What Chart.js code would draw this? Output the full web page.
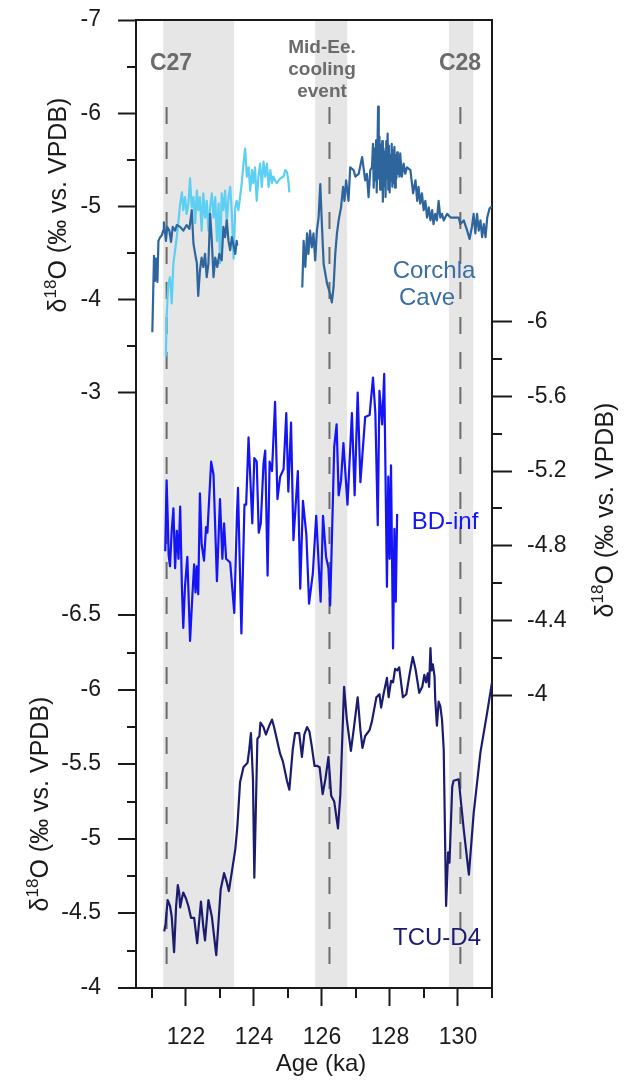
<!DOCTYPE html>
<html>
<head>
<meta charset="utf-8">
<script src="https://cdn.jsdelivr.net/npm/chart.js@4.4.1/dist/chart.umd.min.js"></script>
<style>
  html, body { margin: 0; padding: 0; background: #fff; }
  canvas { display: block; }
</style>
</head>
<body>
<canvas id="chart" width="624" height="1080"></canvas>
<script>
// Corchla Cave, dark record (two pieces) and light record, age in ka
const corchlaAgeA = [121.01,121.06,121.09,121.12,121.16,121.19,121.24,121.29,121.33,121.35,121.41,121.45,121.51,121.56,121.61,121.68,121.73,121.83,121.92,122.02,122.10,122.17,122.22,122.27,122.32,122.36,122.41,122.46,122.51,122.56,122.61,122.66,122.71,122.76,122.81,122.86,122.92,122.98,123.05,123.10,123.15,123.20,123.25,123.30,123.35,123.40,123.45,123.49,123.51];
const corchlaD18OA = [-3.65,-4.47,-4.20,-4.44,-4.19,-4.63,-4.67,-4.69,-4.74,-4.83,-4.63,-4.78,-4.74,-4.62,-4.78,-4.74,-4.80,-4.78,-4.74,-4.80,-4.76,-4.96,-4.60,-4.49,-4.39,-4.04,-4.31,-4.45,-4.35,-4.49,-4.24,-4.39,-4.92,-4.63,-4.24,-4.45,-4.35,-4.49,-4.42,-4.78,-4.67,-4.85,-4.63,-4.53,-4.67,-4.58,-4.49,-4.63,-4.58];
const corchlaAgeB = [125.42,125.46,125.51,125.56,125.60,125.65,125.70,125.75,125.80,125.85,125.90,125.95,126.00,126.05,126.15,126.24,126.29,126.34,126.39,126.44,126.49,126.56,126.62,126.66,126.71,126.78,126.83,126.93,126.98,127.08,127.18,127.22,127.27,127.32,127.37,127.42,127.47,127.50,127.52,127.55,127.57,127.59,127.61,127.63,127.65,127.67,127.69,127.71,127.73,127.75,127.77,127.79,127.81,127.83,127.85,127.87,127.89,127.91,127.93,127.95,127.97,127.99,128.01,128.03,128.05,128.07,128.09,128.11,128.13,128.15,128.17,128.19,128.21,128.23,128.25,128.28,128.30,128.35,128.40,128.45,128.50,128.60,128.68,128.75,128.80,128.84,128.89,128.94,128.99,129.04,129.09,129.14,129.19,129.24,129.28,129.33,129.38,129.43,129.48,129.53,129.58,129.68,129.78,129.87,130.02,130.07,130.17,130.27,130.34,130.41,130.46,130.51,130.56,130.61,130.66,130.71,130.76,130.81,130.86,130.93,131.00];
const corchlaD18OB = [-4.13,-4.63,-4.35,-4.71,-4.49,-4.74,-4.56,-4.71,-4.42,-4.74,-4.88,-5.24,-4.78,-4.38,-4.17,-4.06,-3.97,-4.13,-4.49,-4.71,-4.85,-4.99,-5.21,-5.06,-5.28,-5.06,-5.42,-5.39,-5.32,-5.35,-5.53,-5.42,-5.28,-5.35,-5.10,-5.39,-5.42,-5.67,-5.20,-5.62,-5.28,-5.71,-5.15,-5.60,-6.07,-5.30,-5.75,-5.18,-5.66,-5.25,-5.70,-5.05,-5.62,-5.22,-5.58,-5.10,-5.70,-5.30,-5.78,-5.18,-5.65,-5.15,-5.55,-5.28,-5.67,-5.21,-5.60,-5.25,-5.64,-5.20,-5.55,-5.30,-5.58,-5.35,-5.50,-5.32,-5.57,-5.32,-5.46,-5.35,-5.42,-5.39,-5.14,-5.28,-5.06,-5.21,-5.03,-5.14,-4.96,-5.06,-4.88,-4.99,-4.85,-4.96,-4.81,-4.92,-4.85,-5.06,-4.88,-4.92,-4.85,-4.92,-4.88,-4.88,-4.88,-4.81,-4.85,-4.74,-4.65,-4.78,-4.92,-4.71,-4.92,-4.74,-4.85,-4.67,-4.81,-4.67,-4.88,-4.98,-5.00];
const corchlaLightAge = [121.41,121.43,121.48,121.53,121.58,121.63,121.68,121.73,121.78,121.83,121.88,121.92,121.97,122.02,122.07,122.12,122.17,122.22,122.27,122.32,122.36,122.41,122.46,122.51,122.56,122.61,122.66,122.71,122.76,122.81,122.86,122.91,122.96,123.00,123.05,123.10,123.15,123.20,123.25,123.30,123.35,123.40,123.45,123.49,123.54,123.59,123.64,123.69,123.74,123.79,123.84,123.89,123.94,123.98,124.03,124.08,124.13,124.18,124.23,124.28,124.33,124.38,124.43,124.48,124.53,124.57,124.62,124.67,124.77,124.87,124.92,124.97,125.01,125.04];
const corchlaLightD18O = [-3.39,-3.81,-4.17,-4.24,-3.96,-4.39,-4.53,-4.67,-4.85,-5.03,-5.15,-4.96,-5.10,-4.92,-5.03,-5.30,-4.99,-5.10,-4.82,-5.17,-4.96,-5.10,-4.74,-5.14,-4.88,-5.06,-4.74,-4.99,-5.14,-4.88,-5.10,-4.63,-5.03,-4.39,-5.14,-4.96,-5.17,-4.82,-5.10,-5.21,-4.92,-4.44,-4.99,-5.06,-4.96,-5.10,-5.25,-5.46,-5.62,-5.32,-5.42,-5.17,-5.39,-5.25,-5.42,-5.06,-5.32,-5.46,-5.21,-5.48,-5.32,-5.46,-5.21,-5.39,-5.25,-5.32,-5.28,-5.25,-5.30,-5.32,-5.39,-5.37,-5.28,-5.15];

// BD-inf
const bdAge = [121.39,121.43,121.46,121.49,121.53,121.58,121.63,121.68,121.73,121.78,121.83,121.88,121.92,121.97,122.04,122.12,122.19,122.24,122.28,122.32,122.36,122.41,122.46,122.53,122.59,122.63,122.74,122.81,122.91,123.00,123.07,123.12,123.18,123.30,123.42,123.50,123.53,123.63,123.72,123.77,123.84,123.95,124.01,124.08,124.14,124.20,124.28,124.33,124.40,124.46,124.53,124.62,124.69,124.77,124.87,124.95,125.01,125.09,125.16,125.29,125.36,125.44,125.54,125.62,125.73,125.83,125.96,126.03,126.12,126.19,126.24,126.32,126.36,126.43,126.49,126.56,126.63,126.75,126.88,126.96,127.05,127.13,127.27,127.40,127.50,127.57,127.64,127.69,127.77,127.83,127.91,127.95,127.99,128.03,128.09,128.13,128.17,128.21];
const bdD18O = [-4.77,-5.15,-4.97,-4.75,-4.69,-4.88,-5.00,-4.68,-4.88,-4.73,-5.01,-4.58,-4.36,-4.58,-4.74,-4.29,-4.54,-4.70,-4.55,-4.69,-4.54,-5.08,-4.81,-4.72,-4.90,-4.87,-5.25,-5.18,-4.61,-5.05,-4.73,-4.92,-4.73,-4.71,-4.44,-4.97,-5.11,-4.33,-5.02,-5.02,-5.38,-4.92,-5.27,-5.25,-4.87,-4.92,-5.24,-5.31,-4.64,-5.25,-5.20,-5.57,-5.05,-5.17,-5.21,-5.51,-5.09,-5.46,-4.83,-5.20,-4.57,-5.04,-4.86,-4.49,-4.65,-4.96,-4.50,-4.96,-4.74,-4.68,-4.48,-5.04,-5.33,-5.45,-5.07,-5.15,-5.35,-5.02,-5.51,-5.07,-5.62,-5.14,-5.49,-5.50,-5.70,-5.51,-4.91,-5.63,-5.45,-5.72,-4.58,-5.17,-4.73,-5.23,-4.25,-4.89,-4.50,-4.97];

// TCU-D4
const tcuAge = [121.36,121.40,121.46,121.53,121.58,121.65,121.71,121.76,121.80,121.83,121.88,121.92,122.00,122.07,122.15,122.24,122.33,122.44,122.51,122.56,122.66,122.76,122.89,122.95,123.02,123.12,123.20,123.26,123.35,123.45,123.51,123.59,123.69,123.81,123.86,123.91,123.97,124.01,124.10,124.16,124.19,124.28,124.35,124.45,124.53,124.59,124.67,124.77,124.85,124.97,125.04,125.14,125.21,125.33,125.41,125.48,125.56,125.63,125.70,125.78,125.85,125.93,126.02,126.10,126.19,126.27,126.36,126.47,126.54,126.65,126.73,126.85,126.93,127.05,127.13,127.19,127.27,127.40,127.47,127.60,127.69,127.74,127.81,127.91,127.96,128.03,128.09,128.15,128.21,128.27,128.38,128.48,128.58,128.67,128.75,128.86,128.95,129.01,129.06,129.11,129.15,129.19,129.22,129.26,129.31,129.33,129.38,129.43,129.48,129.53,129.58,129.65,129.71,129.75,129.83,129.87,130.02,130.17,130.32,130.46,130.66,130.86,131.00];
const tcuD18O = [-4.38,-4.43,-4.59,-4.55,-4.48,-4.24,-4.55,-4.69,-4.64,-4.54,-4.60,-4.64,-4.60,-4.55,-4.47,-4.47,-4.30,-4.58,-4.41,-4.32,-4.59,-4.48,-4.22,-4.42,-4.66,-4.77,-4.71,-4.65,-4.78,-4.93,-5.08,-5.38,-5.48,-5.51,-5.60,-5.71,-5.40,-4.74,-5.67,-5.69,-5.78,-5.75,-5.70,-5.76,-5.80,-5.75,-5.67,-5.57,-5.52,-5.39,-5.33,-5.60,-5.71,-5.71,-5.55,-5.70,-5.75,-5.72,-5.62,-5.49,-5.49,-5.48,-5.30,-5.40,-5.55,-5.29,-5.25,-5.07,-5.30,-6.02,-5.80,-5.59,-5.73,-5.95,-5.73,-5.61,-5.69,-5.73,-5.79,-5.95,-5.97,-5.88,-5.97,-6.08,-5.95,-6.06,-6.05,-6.14,-6.13,-6.15,-5.95,-5.97,-6.11,-6.22,-6.14,-5.98,-6.02,-6.10,-6.05,-6.11,-6.02,-6.28,-6.13,-6.17,-6.09,-5.94,-5.76,-5.92,-5.89,-5.80,-5.60,-4.55,-4.91,-4.84,-5.35,-5.39,-5.40,-5.06,-4.76,-5.17,-5.58,-5.85,-6.05];

// shaded intervals and event lines (ka)
const bandStart = [121.33, 125.80, 129.73];
const bandEnd = [123.41, 126.74, 130.45];
const eventAge = [121.43, 126.22, 130.07];

// ticks
const ageTicks = [122, 124, 126, 128, 130];
const ageMinor = [121, 123, 125, 127, 129, 131];
const corchlaTicks = [-7, -6, -5, -4, -3];
const corchlaMinor = [-6.5, -5.5, -4.5, -3.5];
const bdTicks = [-6, -5.6, -5.2, -4.8, -4.4, -4];
const bdMinor = [-5.8, -5.4, -5.0, -4.6, -4.2];
const tcuTicks = [-6.5, -6, -5.5, -5, -4.5, -4];
const tcuMinor = [-6.25, -5.75, -5.25, -4.75, -4.25];

const FONT = '"Liberation Sans", Arial, sans-serif';
const INK = '#1a1a1a';
const DARK = '#2f659d';
const LIGHT = '#5ccff2';
const BLUE = '#1414f5';
const NAVY = '#1c1c6e';

function pts(xs, ys) {
  return xs.map((x, i) => ({ x: x, y: ys[i] }));
}

function line(ctx, x0, y0, x1, y1) {
  ctx.beginPath();
  ctx.moveTo(x0, y0);
  ctx.lineTo(x1, y1);
  ctx.stroke();
}

// rotated "δ18O (‰ vs. VPDB)" with a raised 18
function deltaTitle(ctx, baseX, centerY) {
  const big = '25px ' + FONT, small = '17px ' + FONT;
  ctx.save();
  ctx.translate(baseX, centerY);
  ctx.rotate(-Math.PI / 2);
  ctx.fillStyle = INK;
  ctx.textAlign = 'left';
  ctx.textBaseline = 'alphabetic';
  ctx.font = big;
  const w1 = ctx.measureText('δ').width;
  const w3 = ctx.measureText('O (‰ vs. VPDB)').width;
  ctx.font = small;
  const w2 = ctx.measureText('18').width;
  let x0 = -(w1 + w2 + w3) / 2;
  ctx.font = big;
  ctx.fillText('δ', x0, 0);
  x0 += w1;
  ctx.font = small;
  ctx.fillText('18', x0, -10);
  x0 += w2;
  ctx.font = big;
  ctx.fillText('O (‰ vs. VPDB)', x0, 0);
  ctx.restore();
}

// keep the plot box fixed: no extra room for half labels
function noPad(s) {
  s.paddingTop = 0;
  s.paddingBottom = 0;
  s.paddingLeft = 0;
  s.paddingRight = 0;
}

const decor = {
  id: 'decor',
  beforeDraw(chart) {
    const { ctx, chartArea: a, scales: { x } } = chart;
    ctx.save();
    ctx.fillStyle = '#e6e6e6';
    bandStart.forEach((s, i) => {
      const x0 = x.getPixelForValue(s), x1 = x.getPixelForValue(bandEnd[i]);
      ctx.fillRect(x0, a.top, x1 - x0, a.bottom - a.top);
    });
    ctx.strokeStyle = '#6b6b6b';
    ctx.lineWidth = 2;
    ctx.setLineDash([17, 18]);
    eventAge.forEach(v => {
      const px = x.getPixelForValue(v);
      line(ctx, px, 107, px, 976);
    });
    ctx.restore();
  },
  afterDatasetsDraw(chart) {
    const { ctx } = chart;
    ctx.save();
    ctx.textAlign = 'center';
    ctx.textBaseline = 'alphabetic';
    ctx.fillStyle = '#6b6b6b';
    ctx.font = 'bold 23px ' + FONT;
    ctx.fillText('C27', 171, 70);
    ctx.fillText('C28', 460, 70);
    ctx.font = 'bold 19px ' + FONT;
    ctx.fillText('Mid-Ee.', 322, 53);
    ctx.fillText('cooling', 322, 75);
    ctx.fillText('event', 322, 97);
    ctx.font = '24px ' + FONT;
    ctx.fillStyle = '#3a6ea5';
    ctx.fillText('Corchla', 434, 278);
    ctx.fillText('Cave', 427, 305);
    ctx.fillStyle = BLUE;
    ctx.fillText('BD-inf', 445, 529);
    ctx.fillStyle = NAVY;
    ctx.fillText('TCU-D4', 437, 945);
    ctx.restore();
  },
  afterDraw(chart) {
    const { ctx, chartArea: a, scales } = chart;
    const x = scales.x, yC = scales.yC, yB = scales.yB, yT = scales.yT;
    ctx.save();
    ctx.strokeStyle = INK;
    ctx.lineWidth = 2;
    line(ctx, a.left, a.top, a.right + 1, a.top);
    ageMinor.forEach(v => {
      const px = Math.round(x.getPixelForValue(v));
      line(ctx, px, a.bottom, px, a.bottom + 10);
    });
    corchlaMinor.forEach(v => {
      const py = Math.round(yC.getPixelForValue(v));
      line(ctx, a.left - 9, py, a.left, py);
    });
    bdMinor.forEach(v => {
      const py = Math.round(yB.getPixelForValue(v));
      line(ctx, a.right, py, a.right + 10, py);
    });
    tcuMinor.forEach(v => {
      const py = Math.round(yT.getPixelForValue(v));
      line(ctx, a.left - 9, py, a.left, py);
    });
    ctx.fillStyle = INK;
    ctx.font = '23px ' + FONT;
    ctx.textAlign = 'right';
    ctx.textBaseline = 'middle';
    tcuTicks.forEach(v => {
      const py = Math.round(yT.getPixelForValue(v));
      line(ctx, a.left - 18, py, a.left, py);
      ctx.fillText(String(v), a.left - 35, py);
    });
    deltaTitle(ctx, 66, 205);
    deltaTitle(ctx, 48, 804);
    deltaTitle(ctx, 613, 510);
    ctx.font = '24px ' + FONT;
    ctx.textAlign = 'center';
    ctx.textBaseline = 'alphabetic';
    ctx.fillText('Age (ka)', 321, 1071);
    ctx.restore();
  }
};

const tickFont = { family: FONT, size: 23 };

new Chart(document.getElementById('chart'), {
  type: 'line',
  data: {
    datasets: [
      { label: 'Corchla Cave', data: pts(corchlaAgeA, corchlaD18OA), yAxisID: 'yC', borderColor: DARK },
      { label: 'Corchla Cave (b)', data: pts(corchlaAgeB, corchlaD18OB), yAxisID: 'yC', borderColor: DARK },
      { label: 'Corchla Cave (light)', data: pts(corchlaLightAge, corchlaLightD18O), yAxisID: 'yC', borderColor: LIGHT },
      { label: 'BD-inf', data: pts(bdAge, bdD18O), yAxisID: 'yB', borderColor: BLUE },
      { label: 'TCU-D4', data: pts(tcuAge, tcuD18O), yAxisID: 'yT', borderColor: NAVY }
    ]
  },
  options: {
    responsive: false,
    devicePixelRatio: 1,
    animation: false,
    layout: { padding: { top: 20 } },
    datasets: {
      line: { borderWidth: 2.2, pointRadius: 0, tension: 0, fill: false, borderJoinStyle: 'round' }
    },
    plugins: { legend: { display: false }, tooltip: { enabled: false } },
    scales: {
      x: {
        type: 'linear',
        position: 'bottom',
        min: 120.53,
        max: 131,
        afterFit: s => { s.height = 92; noPad(s); },
        afterBuildTicks: s => { s.ticks = ageTicks.map(v => ({ value: v })); },
        grid: { drawOnChartArea: false, tickLength: 18, tickWidth: 2, tickColor: INK },
        border: { color: INK, width: 2 },
        ticks: { font: tickFont, color: INK, padding: 18, maxRotation: 0, autoSkip: false, callback: v => String(v) }
      },
      yC: {
        type: 'linear',
        position: 'left',
        reverse: true,
        min: -7,
        max: 3.386,
        afterFit: s => { s.width = 136; noPad(s); },
        afterBuildTicks: s => { s.ticks = corchlaTicks.map(v => ({ value: v })); },
        grid: { drawOnChartArea: false, tickLength: 18, tickWidth: 2, tickColor: INK },
        border: { color: INK, width: 2 },
        ticks: { font: tickFont, color: INK, padding: 17, autoSkip: false, callback: v => String(v) }
      },
      yB: {
        type: 'linear',
        position: 'right',
        reverse: true,
        min: -7.616,
        max: -2.431,
        afterFit: s => { s.width = 132; noPad(s); },
        afterBuildTicks: s => { s.ticks = bdTicks.map(v => ({ value: v })); },
        grid: { drawOnChartArea: false, tickLength: 20, tickWidth: 2, tickColor: INK },
        border: { color: INK, width: 2 },
        ticks: { font: tickFont, color: INK, padding: 15, autoSkip: false, callback: v => String(v) }
      },
      yT: {
        type: 'linear',
        display: false,
        reverse: true,
        min: -10.492,
        max: -4
      }
    }
  },
  plugins: [decor]
});
</script>
</body>
</html>
